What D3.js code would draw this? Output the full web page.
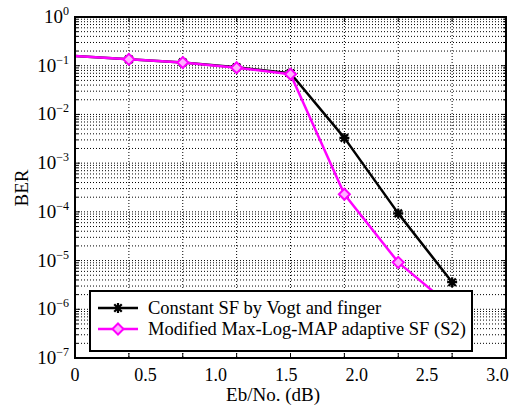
<!DOCTYPE html>
<html><head><meta charset="utf-8">
<script src="https://cdn.jsdelivr.net/npm/d3@7"></script>
<style>body{margin:0;background:#fff}svg{display:block}</style>
</head><body>
<script>
const ebno = [0, 0.3825, 0.765, 1.1475, 1.53, 1.9125, 2.295, 2.6775];
const gridX = [0, 0.3825, 0.765, 1.1475, 1.53, 1.9125, 2.295, 2.6775, 3.06];
const xTickValues = [0, 0.5, 1.0, 1.5, 2.0, 2.5, 3.0];
const xTickLabels = ["0", "0.5", "1.0", "1.5", "2.0", "2.5", "3.0"];
const yDecades = [0, -1, -2, -3, -4, -5, -6, -7];
const berConst = [0.158, 0.135, 0.117, 0.093, 0.070, 3.3e-3, 9.3e-5, 3.6e-6];
const berAdapt = [0.158, 0.135, 0.116, 0.091, 0.067, 2.3e-4, 9.2e-6, 1.1e-6];
const seriesNames = ["Constant SF by Vogt and finger", "Modified Max-Log-MAP adaptive SF (S2)"];
const seriesColors = ["#000000", "#ff00ff"];

const FONT = "'Liberation Serif', 'Times New Roman', serif";
const W = 513, H = 406;
const L = 75, R = 506, T = 17, B = 358;
const svg = d3.select("body").append("svg").attr("width", W).attr("height", H)
  .attr("font-family", FONT);
const x = d3.scaleLinear().domain([0, 3.06]).range([L, R]);
const y = d3.scaleLog().domain([1e-7, 1]).range([B, T]);

// grid
const g = svg.append("g").attr("stroke", "#000").attr("stroke-width", 1).attr("stroke-dasharray", "1,2");
gridX.slice(1, -1).forEach(v => g.append("line").attr("x1", x(v)).attr("x2", x(v)).attr("y1", T).attr("y2", B));
const minorY = [];
yDecades.slice(1).forEach(d => { for (let k = 1; k <= 9; k++) minorY.push(k * Math.pow(10, d)); });
minorY.filter(v => v < 1 && v > 1e-7).forEach(v => g.append("line").attr("x1", L).attr("x2", R).attr("y1", y(v)).attr("y2", y(v)));

// ticks
const tk = svg.append("g").attr("stroke", "#000").attr("stroke-width", 1);
gridX.slice(1, -1).forEach(v => {
  tk.append("line").attr("x1", x(v)).attr("x2", x(v)).attr("y1", B).attr("y2", B - 5);
  tk.append("line").attr("x1", x(v)).attr("x2", x(v)).attr("y1", T).attr("y2", T + 5);
});
minorY.filter(v => v < 1 && v > 1e-7).forEach(v => {
  const len = Math.abs(Math.log10(v) - Math.round(Math.log10(v))) < 1e-9 ? 5 : 3;
  tk.append("line").attr("x1", L).attr("x2", L + len).attr("y1", y(v)).attr("y2", y(v));
  tk.append("line").attr("x1", R).attr("x2", R - len).attr("y1", y(v)).attr("y2", y(v));
});

// lines
const line = d3.line().x((d, i) => x(ebno[i])).y(d => y(d));
[berConst, berAdapt].forEach((s, si) => {
  svg.append("path").attr("d", line(s)).attr("fill", "none").attr("stroke", seriesColors[si]).attr("stroke-width", 2.5).attr("stroke-linejoin", "round");
});
function asterisk(sel, cx, cy, r) {
  const p = `M${cx - r},${cy}L${cx + r},${cy}M${cx},${cy - r}L${cx},${cy + r}M${cx - r * 0.75},${cy - r * 0.75}L${cx + r * 0.75},${cy + r * 0.75}M${cx - r * 0.75},${cy + r * 0.75}L${cx + r * 0.75},${cy - r * 0.75}`;
  sel.append("path").attr("d", p).attr("stroke", "#000").attr("stroke-width", 2.2).attr("fill", "none");
}
function diamond(sel, cx, cy, r) {
  sel.append("path").attr("d", `M${cx},${cy - r}L${cx + r},${cy}L${cx},${cy + r}L${cx - r},${cy}Z`)
    .attr("stroke", "#ff00ff").attr("stroke-width", 2).attr("fill", "#ffb0ff");
}
berConst.forEach((v, i) => { if (i > 0) asterisk(svg, x(ebno[i]), y(v), 5); });
berAdapt.forEach((v, i) => { if (i > 0) diamond(svg, x(ebno[i]), y(v), 5.5); });

// frame
svg.append("rect").attr("x", L).attr("y", T).attr("width", R - L).attr("height", B - T).attr("fill", "none").attr("stroke", "#000").attr("stroke-width", 2);

// x labels
xTickValues.forEach((v, i) => svg.append("text").attr("x", x(v)).attr("y", 381).attr("text-anchor", "middle").attr("font-size", 18).text(xTickLabels[i]));
// y labels
yDecades.forEach(d => {
  const t = svg.append("text").attr("x", 69).attr("y", y(Math.pow(10, d)) + 6).attr("text-anchor", "end").attr("font-size", 19);
  t.append("tspan").text("10");
  t.append("tspan").attr("dy", -8).attr("font-size", 12).text(d === 0 ? "0" : "\u2212" + (-d));
});
svg.append("text").attr("x", 273).attr("y", 401).attr("text-anchor", "middle").attr("font-size", 19).text("Eb/No. (dB)");
svg.append("text").attr("transform", "translate(28,188) rotate(-90)").attr("text-anchor", "middle").attr("font-size", 19).text("BER");

// legend
const lg = svg.append("g");
lg.append("rect").attr("x", 90).attr("y", 291).attr("width", 382).attr("height", 60).attr("fill", "#fff").attr("stroke", "#000").attr("stroke-width", 2);
const ly = [308, 329];
seriesNames.forEach((n, i) => {
  lg.append("line").attr("x1", 98).attr("x2", 138).attr("y1", ly[i]).attr("y2", ly[i]).attr("stroke", seriesColors[i]).attr("stroke-width", 2.5);
  if (i === 0) asterisk(lg, 118, ly[i], 5); else diamond(lg, 118, ly[i], 5.5);
  lg.append("text").attr("x", 148).attr("y", ly[i] + 6).attr("font-size", 18.5).text(n);
});
</script>
</body></html>
